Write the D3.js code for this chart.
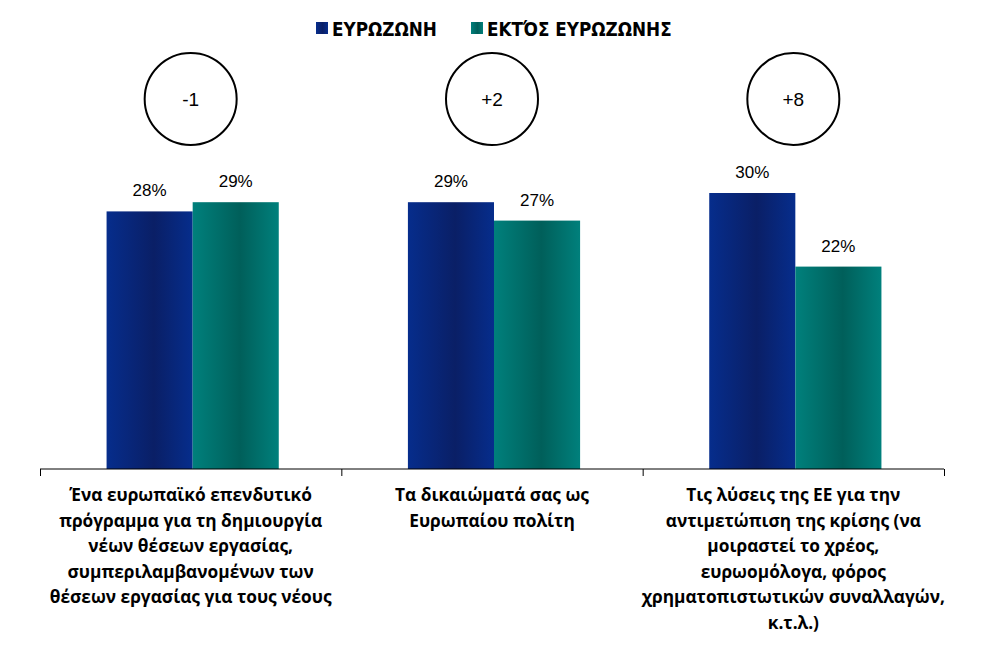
<!DOCTYPE html>
<head>
    <meta charset="utf-8">
    <title>Ευρωζώνη vs εκτός ευρωζώνης</title>
    <script src="https://d3js.org/d3.v7.min.js"></script>
</head>
<style>
body { margin: 0; background: #fff; font-family: "Liberation Sans", Arial, sans-serif; }
</style>
<body>
    <svg></svg>
</body>
<script>

    // Data
    var categories = [
        ["Ένα ευρωπαϊκό επενδυτικό", "πρόγραμμα για τη δημιουργία", "νέων θέσεων εργασίας,", "συμπεριλαμβανομένων των", "θέσεων εργασίας για τους νέους"],
        ["Τα δικαιώματά σας ως", "Ευρωπαίου πολίτη"],
        ["Τις λύσεις της ΕΕ για την", "αντιμετώπιση της κρίσης (να", "μοιραστεί το χρέος,", "ευρωομόλογα, φόρος", "χρηματοπιστωτικών συναλλαγών,", "κ.τ.λ.)"]
    ];
    var seriesNames = ["ΕΥΡΩΖΩΝΗ", "ΕΚΤΌΣ ΕΥΡΩΖΩΝΗΣ"];
    var euroZone = [28, 29, 30];
    var outsideEuro = [29, 27, 22];
    var diffLabels = ["-1", "+2", "+8"];

    var width = 981, height = 660;
    var x0 = 40, x1 = 944, baseY = 469;

    var svg = d3.select('svg').attr('width', width).attr('height', height);

    // gradients like the original bars
    var defs = svg.append('defs');
    function grad(id, edge, dark) {
        var g = defs.append('linearGradient').attr('id', id)
            .attr('x1', '0%').attr('x2', '100%').attr('y1', '0%').attr('y2', '0%');
        g.append('stop').attr('offset', '0%').attr('stop-color', edge);
        g.append('stop').attr('offset', '55%').attr('stop-color', dark);
        g.append('stop').attr('offset', '100%').attr('stop-color', edge);
    }
    grad('gBlue', '#062d8c', '#0a1f66');
    grad('gTeal', '#00807c', '#005f5a');
    var fills = ['url(#gBlue)', 'url(#gTeal)'];

    var idx = d3.range(categories.length);
    var x = d3.scaleBand().domain(idx).range([x0, x1]).paddingInner(0).paddingOuter(0);
    var xs = d3.scaleBand().domain([0, 1]).range([2, x.bandwidth() + 2]).paddingInner(0).paddingOuter(0.75);
    var y = d3.scaleLinear().domain([0, 50]).range([baseY, 9]);

    var rows = idx.map(function (i) { return [euroZone[i], outsideEuro[i]]; });

    var groups = svg.selectAll('.grp').data(rows).enter().append('g')
        .attr('class', 'grp')
        .attr('transform', function (d, i) { return 'translate(' + x(i) + ',0)'; });

    groups.selectAll('rect').data(function (d) { return d; }).enter().append('rect')
        .attr('x', function (d, j) { return xs(j); })
        .attr('y', function (d) { return y(d); })
        .attr('width', xs.bandwidth())
        .attr('height', function (d) { return baseY - y(d); })
        .attr('fill', function (d, j) { return fills[j]; });

    groups.selectAll('.val').data(function (d) { return d; }).enter().append('text')
        .attr('class', 'val')
        .attr('x', function (d, j) { return xs(j) + xs.bandwidth() / 2; })
        .attr('y', function (d) { return y(d) - 15; })
        .attr('text-anchor', 'middle')
        .style('font-size', '17px').style('fill', '#000')
        .text(function (d) { return d + '%'; });

    // axis with tick marks between categories
    var axis = d3.axisBottom(d3.scaleLinear().domain([0, categories.length]).range([x0, x1]))
        .ticks(categories.length).tickSize(7).tickFormat('');
    svg.append('g').attr('transform', 'translate(0,' + baseY + ')').call(axis)
        .call(function (g) { g.select('.domain').attr('d', 'M' + x0 + ',0H' + x1).attr('stroke', '#000'); })
        .call(function (g) { g.selectAll('line').attr('stroke', '#000'); });

    // category labels
    groups.append('text')
        .attr('text-anchor', 'middle')
        .style('font-size', '17.3px').style('font-weight', 'bold')
        .attr('font-family', '"Open Sans", sans-serif')
        .selectAll('tspan').data(function (d, i) { return categories[i]; }).enter().append('tspan')
        .attr('x', x.bandwidth() / 2)
        .attr('y', function (d, k) { return 501 + k * 25.5; })
        .text(function (d) { return d; });

    // difference circles
    groups.append('circle')
        .attr('cx', x.bandwidth() / 2).attr('cy', 99).attr('r', 46)
        .attr('fill', '#fff').attr('stroke', '#000').attr('stroke-width', 2);
    groups.append('text')
        .attr('x', x.bandwidth() / 2).attr('y', 106)
        .attr('text-anchor', 'middle')
        .style('font-size', '19px')
        .text(function (d, i) { return diffLabels[i]; });

    // legend
    var legendX = [316, 471];
    var legend = svg.selectAll('.leg').data(seriesNames).enter().append('g')
        .attr('class', 'leg')
        .attr('transform', function (d, i) { return 'translate(' + legendX[i] + ',22)'; });
    legend.append('rect').attr('width', 12).attr('height', 12)
        .attr('fill', function (d, i) { return fills[i]; });
    legend.append('text').attr('x', 16).attr('y', 13.5)
        .attr('font-family', '"DejaVu Sans Condensed", sans-serif')
        .style('font-size', '18.7px').style('font-weight', 'bold')
        .text(function (d) { return d; });

</script>
